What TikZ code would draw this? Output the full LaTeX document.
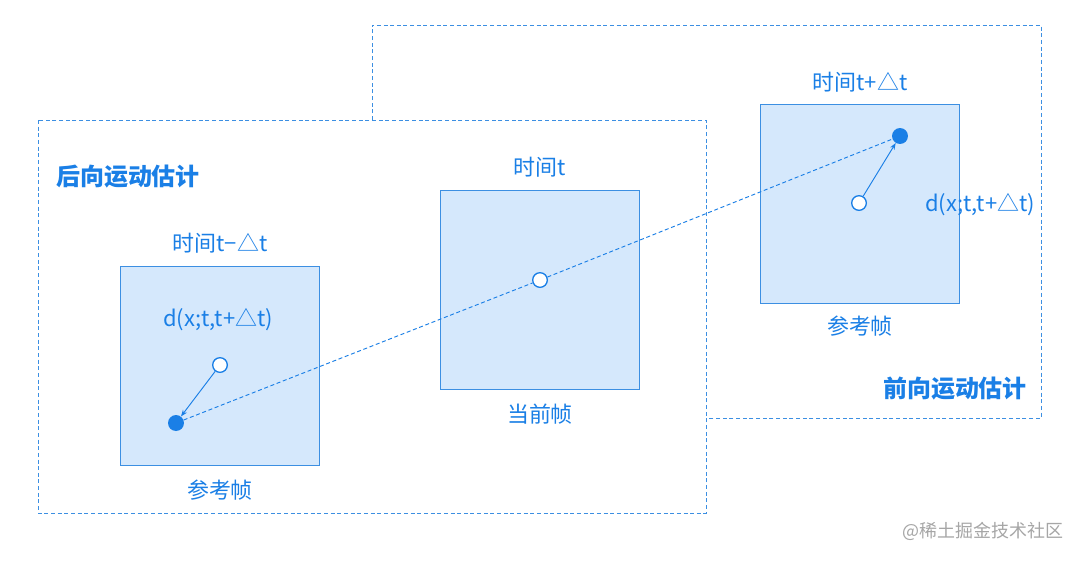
\documentclass[tikz,border=0pt]{standalone}
\usepackage{fontspec}
\setmainfont{Noto Sans CJK SC}
\usetikzlibrary{arrows.meta}
\definecolor{bl}{HTML}{1A7FE6}
\definecolor{fr}{HTML}{D5E8FC}
\definecolor{ed}{HTML}{3C8FE2}
\tikzset{
 frame/.style={draw=ed,fill=fr,line width=0.6pt},
 lbl/.style={text=bl,font=\fontsize{16.5}{18}\selectfont,inner sep=0},
 big/.style={text=bl,font=\fontsize{18}{20}\selectfont\bfseries,inner sep=0},
 dbox/.style={draw=ed,dashed,line width=0.6pt,dash pattern=on 3pt off 2pt},
 oc/.style={circle,draw=bl,fill=white,line width=1pt,minimum size=11pt,inner sep=0},
 fc/.style={circle,fill=bl,minimum size=12pt,inner sep=0},
 arr/.style={draw=bl,line width=0.7pt,-{Stealth[length=5pt]}}
}
\begin{document}
\begin{tikzpicture}[x=0.0264cm,y=-0.0264cm]
\useasboundingbox (0,0) rectangle (1080,560);
\fill[white] (0,0) rectangle (1080,560);
\draw[dbox] (372,120) -- (372,25) -- (1041,25) -- (1041,418) -- (706,418);
\draw[dbox] (38,120) rectangle (706,513);
\node[big] (bt) at (128,177) {后向运动估计};
\node[big] (ft) at (955,389) {前向运动估计};
\draw[frame] (120,266) rectangle (319,465);
\draw[frame] (440,190) rectangle (639,389);
\draw[frame] (760,104) rectangle (959,303);
\node[lbl] (t1) at (220,243) {时间t−△t};
\node[lbl] (r1) at (220,490) {参考帧};
\node[lbl] (t2) at (540,167) {时间t};
\node[lbl] (c2) at (540,414) {当前帧};
\node[lbl] (t3) at (860,82) {时间t+△t};
\node[lbl] (r3) at (860,326) {参考帧};
\node[lbl] (d1) at (218,320) {d(x;t,t+△t)};
\node[lbl] (d3) at (980,205) {d(x;t,t+△t)};
\node[oc] (o1) at (220,365) {};
\node[fc] (f1) at (176,423) {};
\node[oc] (o2) at (540,280) {};
\node[oc] (o3) at (859,203) {};
\node[fc] (f3) at (900,136) {};
\draw[draw=bl,line width=0.7pt,dashed,dash pattern=on 3pt off 2pt] (f1) -- (o2) -- (f3);
\draw[arr] (o1) -- (f1);
\draw[arr] (o3) -- (f3);
\node[text=gray!70,font=\fontsize{13.5}{15}\selectfont,inner sep=0] (wm) at (983,531) {@稀土掘金技术社区};
\end{tikzpicture}
\end{document}
